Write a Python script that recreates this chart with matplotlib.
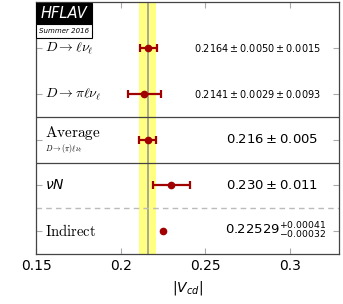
import matplotlib.pyplot as plt
from matplotlib.patches import Rectangle

# measurements of |Vcd|
labels = [r'$D\rightarrow \ell\nu_\ell$', r'$D\rightarrow \pi\ell\nu_\ell$',
          r'$\mathrm{Average}$', r'$\nu N$', r'$\mathrm{Indirect}$']
ypos = [9, 7, 5, 3, 1]
values = [0.2164, 0.2141, 0.216, 0.230, 0.22529]
err_lo = [0.00522, 0.00974, 0.005, 0.011, 0.00032]
err_hi = [0.00522, 0.00974, 0.005, 0.011, 0.00041]
value_text = [r'$0.2164 \pm 0.0050 \pm 0.0015$',
              r'$0.2141 \pm 0.0029 \pm 0.0093$',
              r'$0.216 \pm 0.005$',
              r'$0.230 \pm 0.011$',
              r'$0.22529^{+0.00041}_{-0.00032}$']
value_size = [7, 7, 9.5, 9.5, 9.5]
value_right = [0.3186, 0.3186, 0.317, 0.317, 0.3216]
avg = 0.216
avg_err = 0.005
xticks = [0.15, 0.2, 0.25, 0.3]
xticklabels = ['0.15', '0.2', '0.25', '0.3']

red = '#a00000'

fig = plt.figure(figsize=(3.43, 3.04), dpi=100)
ax = fig.add_axes([0.105, 0.164, 0.883, 0.829])
ax.set_xlim(0.15, 0.329)
ax.set_ylim(0, 11)

# average band
ax.axvspan(avg - avg_err, avg + avg_err, color='#ffff80', zorder=0, lw=0)
ax.axvline(avg, color='#999999', lw=1.2, zorder=1)

# separators
ax.axhline(6, color='#444444', lw=0.9)
ax.axhline(4, color='#444444', lw=0.9)
ax.axhline(2, color='#bbbbbb', lw=1.0, ls=(0, (4, 3)))

ax.errorbar(values[:4], ypos[:4], xerr=[err_lo[:4], err_hi[:4]], fmt='o', color=red, ms=4.5,
            lw=1.6, capsize=3, capthick=1.6, zorder=3)
# indirect: error smaller than the marker
ax.errorbar(values[4:], ypos[4:], xerr=[err_lo[4:], err_hi[4:]], fmt='o', color=red, ms=4.5,
            lw=1.6, capsize=0, zorder=3)

# row labels
lx = 0.1553
ax.text(lx, 9, labels[0], fontsize=10, va='center', ha='left', math_fontfamily='cm')
ax.text(lx, 7, labels[1], fontsize=10, va='center', ha='left', math_fontfamily='cm')
ax.text(lx, 5.3, labels[2], fontsize=11, va='center', ha='left', math_fontfamily='cm')
ax.text(lx, 4.6, r'$D\rightarrow(\pi)\ell\nu_\ell$', fontsize=5.5, va='center', ha='left',
        math_fontfamily='cm')
ax.text(lx, 3, labels[3], fontsize=10, va='center', ha='left', math_fontfamily='dejavusans')
ax.text(lx, 1, labels[4], fontsize=10.5, va='center', ha='left', math_fontfamily='cm')

for y, t, s, r in zip(ypos, value_text, value_size, value_right):
    ax.text(r, y, t, fontsize=s, va='center', ha='right', math_fontfamily='dejavusans')

# HFLAV logo
ax.add_patch(Rectangle((0.0, 0.913), 0.185, 0.082, transform=ax.transAxes,
                       facecolor='black', edgecolor='black', lw=0.8, zorder=5))
ax.add_patch(Rectangle((0.0, 0.857), 0.185, 0.056, transform=ax.transAxes,
                       facecolor='white', edgecolor='black', lw=0.8, zorder=5))
ax.text(0.092, 0.953, 'HFLAV', transform=ax.transAxes, color='white', fontsize=10.5,
        style='italic', ha='center', va='center', zorder=6)
ax.text(0.092, 0.884, 'Summer 2016', transform=ax.transAxes, color='black', fontsize=5,
        style='italic', ha='center', va='center', zorder=6)

ax.set_xticks(xticks)
ax.set_xticklabels(xticklabels, fontsize=10)
ax.set_yticks(ypos)
ax.set_yticklabels([])
ax.tick_params(direction='in', top=True, right=True, color='#aaaaaa', length=4, width=0.8)
ax.tick_params(axis='x', colors='#aaaaaa', labelcolor='black')
for sp in ax.spines.values():
    sp.set_color('#444444')
    sp.set_linewidth(0.9)

ax.set_xlabel(r'$|V_{cd}|$', fontsize=10, math_fontfamily='dejavusans', labelpad=4)

fig.savefig('out.png', dpi=100)
